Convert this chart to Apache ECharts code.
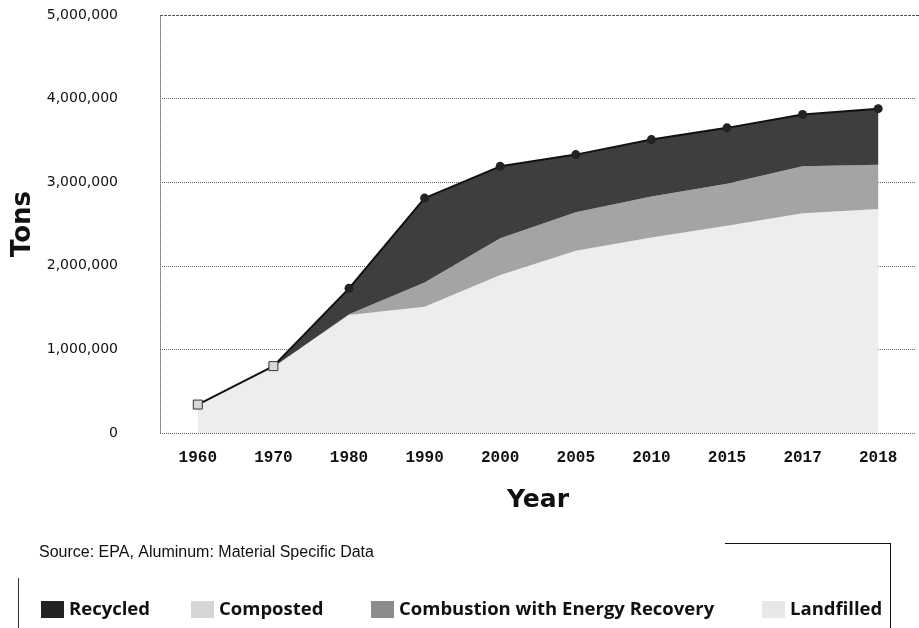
<!DOCTYPE html>
<html>
<head>
<meta charset="utf-8">
<script src="https://cdn.jsdelivr.net/npm/echarts@6/dist/echarts.min.js"></script>
<style>html,body{margin:0;padding:0;background:#fff;}#c{width:919px;height:628px;}</style>
</head>
<body>
<div id="c"></div>
<script>
const years = ['1960','1970','1980','1990','2000','2005','2010','2015','2017','2018'];
const landfilled = [340000, 790000, 1410000, 1510000, 1890000, 2180000, 2340000, 2480000, 2630000, 2680000];
const combustion = [0, 0, 10000, 290000, 440000, 460000, 490000, 500000, 560000, 530000];
const composted  = [0, 0, 0, 0, 0, 0, 0, 0, 0, 0];
const recycled   = [0, 10000, 310000, 1010000, 860000, 690000, 680000, 670000, 620000, 670000];
const legendNames = ['Recycled','Composted','Combustion with Energy Recovery','Landfilled'];

const chart = echarts.init(document.getElementById('c'), null, {renderer:'canvas'});
const fmt = v => v.toLocaleString('en-US');
const legendLefts = [36, 186, 366, 757];
const legendText = {fontFamily:'Open Sans', fontWeight:'bold', fontSize:18.5, color:'#111'};
const recycledData = recycled.map((v,i) => i < 2
  ? {value:v, symbol:'rect', symbolSize:[9,9], itemStyle:{color:'#d8d8d8', borderColor:'#333', borderWidth:1}}
  : v);
chart.setOption({
  animation:false,
  backgroundColor:'#fff',
  title:{text:'Source: EPA, Aluminum: Material Specific Data', left:34, top:540,
    textStyle:{fontFamily:'Liberation Sans', fontSize:16, fontWeight:'normal', color:'#111'}},
  legend: legendNames.map((n,i)=>({left:legendLefts[i], top:595, itemWidth:23, itemHeight:17, itemGap:8,
    icon:'rect', data:[n], selectedMode:false, textStyle:legendText})),
  grid:{left:160, right:3, top:15, bottom:195},
  xAxis:{type:'category', data:years, boundaryGap:true, name:'Year', nameLocation:'middle', nameGap:55,
    nameTextStyle:{fontFamily:'DejaVu Sans', fontWeight:'bold', fontSize:25, color:'#111'},
    axisLine:{show:false}, axisTick:{show:false},
    axisLabel:{fontFamily:'Liberation Mono', fontSize:16, fontWeight:'bold', color:'#111', margin:17}},
  yAxis:{type:'value', min:0, max:5000000, interval:1000000, name:'Tons', nameLocation:'middle', nameGap:120,
    nameTextStyle:{fontFamily:'DejaVu Sans', fontWeight:'bold', fontSize:26, color:'#111'},
    axisLine:{show:true, lineStyle:{color:'#777', type:'dotted'}}, axisTick:{show:false},
    splitLine:{lineStyle:{color:'#666', type:'dotted', width:1}},
    axisLabel:{fontFamily:'DejaVu Sans', fontSize:14, color:'#111', margin:42, formatter:v=>fmt(v)}},
  graphic:[
    {type:'line', shape:{x1:160,y1:15.5,x2:919,y2:15.5}, style:{stroke:'#444', lineWidth:1, lineDash:[3,1]}},
    {type:'line', shape:{x1:725,y1:543.5,x2:891,y2:543.5}, style:{stroke:'#111', lineWidth:1}},
    {type:'line', shape:{x1:890.5,y1:543,x2:890.5,y2:628}, style:{stroke:'#111', lineWidth:1}},
    {type:'line', shape:{x1:18.5,y1:578,x2:18.5,y2:628}, style:{stroke:'#333', lineWidth:1}}
  ],
  series:[
    {name:'Landfilled', type:'line', stack:'t', data:landfilled, symbol:'none',
     lineStyle:{width:0}, areaStyle:{color:'#ededed', opacity:1}, itemStyle:{color:'#e8e8e8'}},
    {name:'Combustion with Energy Recovery', type:'line', stack:'t', data:combustion, symbol:'none',
     lineStyle:{width:0}, areaStyle:{color:'#a4a4a4', opacity:1}, itemStyle:{color:'#8c8c8c'}},
    {name:'Composted', type:'line', stack:'t', data:composted, symbol:'none',
     lineStyle:{width:0}, areaStyle:{color:'#d4d4d4', opacity:1}, itemStyle:{color:'#d6d6d6'}},
    {name:'Recycled', type:'line', stack:'t', data:recycledData, symbol:'circle', symbolSize:9,
     lineStyle:{width:2, color:'#111'}, areaStyle:{color:'#3e3e3e', opacity:1}, itemStyle:{color:'#222'}}
  ]
});
</script>
</body>
</html>
